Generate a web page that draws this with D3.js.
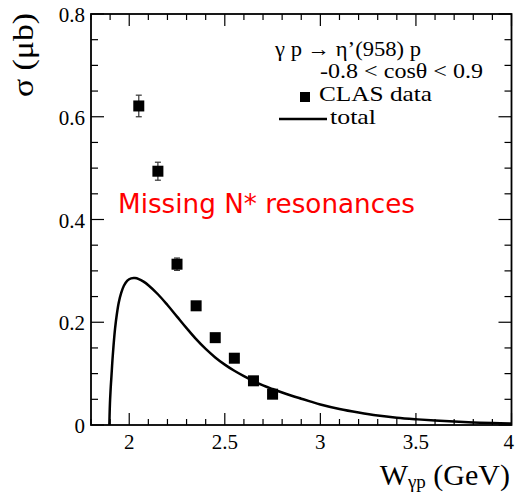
<!DOCTYPE html>
<html>
<head>
<meta charset="utf-8">
<script src="https://cdn.jsdelivr.net/npm/d3@7"></script>
<style>
html,body{margin:0;padding:0;background:#fff;}
svg{display:block;}
</style>
</head>
<body>
<svg id="chart" width="515" height="494"></svg>
<script>
// ---- data ----
const dataW = [2.05, 2.15, 2.25, 2.35, 2.45, 2.55, 2.65, 2.75];
const dataSigma = [0.621, 0.494, 0.313, 0.232, 0.170, 0.130, 0.086, 0.060];
const dataErr = [0.021, 0.0175, 0.012, 0.006, 0.005, 0.004, 0.004, 0.003];

const curveW = [1.896, 1.898, 1.900, 1.903, 1.907, 1.912, 1.918, 1.926, 1.935, 1.945, 1.958, 1.972, 1.990, 2.010, 2.030, 2.050, 2.075, 2.10, 2.15, 2.20, 2.25, 2.30, 2.35, 2.40, 2.45, 2.50, 2.55, 2.60, 2.65, 2.70, 2.75, 2.80, 2.85, 2.90, 2.95, 3.0, 3.1, 3.2, 3.3, 3.4, 3.5, 3.6, 3.7, 3.8, 3.9, 4.0];
const curveSigma = [0.0, 0.030, 0.050, 0.072, 0.095, 0.125, 0.155, 0.188, 0.215, 0.238, 0.257, 0.271, 0.281, 0.2855, 0.2860, 0.2840, 0.2790, 0.2720, 0.2545, 0.2335, 0.2110, 0.1885, 0.1670, 0.1480, 0.1315, 0.1175, 0.1055, 0.0950, 0.0855, 0.0772, 0.0700, 0.0632, 0.0570, 0.0512, 0.0455, 0.0400, 0.0312, 0.0243, 0.0185, 0.0143, 0.0112, 0.0086, 0.0066, 0.0050, 0.0037, 0.0027];

const xTicks = [2, 2.5, 3, 3.5, 4];
const xTickLabels = ["2", "2.5", "3", "3.5", "4"];
const yTicks = [0, 0.2, 0.4, 0.6, 0.8];
const yTickLabels = ["0", "0.2", "0.4", "0.6", "0.8"];

const legendLines = ["γ p → η’(958) p", "-0.8 < cosθ < 0.9"];
const legendItems = ["CLAS data", "total"];
const annotation = "Missing N* resonances";

// ---- layout ----
const svg = d3.select("#chart");
const L = 91, R = 511.5, T = 14, B = 425;
const x = d3.scaleLinear().domain([1.8, 4]).range([L, R]);
const y = d3.scaleLinear().domain([0, 0.8]).range([B, T]);
const serif = "'Liberation Serif','Times New Roman',serif";

const g = svg.append("g");

// minor/major ticks
const xMinor = d3.range(1.8, 4.0001, 0.1).map(v => +v.toFixed(2));
const yMinor = d3.range(0, 0.8001, 0.05).map(v => +v.toFixed(3));
const isMajorX = v => xTicks.some(t => Math.abs(t - v) < 1e-6);
const isMajorY = v => yTicks.some(t => Math.abs(t - v) < 1e-6);

const tickG = g.append("g").attr("stroke", "#000").attr("stroke-width", 1.2);
xMinor.forEach(v => {
  const len = isMajorX(v) ? 12 : 6;
  tickG.append("line").attr("x1", x(v)).attr("x2", x(v)).attr("y1", B).attr("y2", B - len);
  tickG.append("line").attr("x1", x(v)).attr("x2", x(v)).attr("y1", T).attr("y2", T + len);
});
yMinor.forEach(v => {
  const len = isMajorY(v) ? 13 : 7;
  tickG.append("line").attr("x1", L).attr("x2", L + len).attr("y1", y(v)).attr("y2", y(v));
  tickG.append("line").attr("x1", R).attr("x2", R - len).attr("y1", y(v)).attr("y2", y(v));
});

// frame
g.append("rect").attr("x", L).attr("y", T).attr("width", R - L).attr("height", B - T)
  .attr("fill", "none").attr("stroke", "#000").attr("stroke-width", 1.8);

// tick labels
xTicks.forEach((v, i) => {
  const last = i === xTicks.length - 1;
  g.append("text").attr("x", last ? 514 : x(v)).attr("y", 449)
    .attr("text-anchor", last ? "end" : "middle")
    .attr("font-family", serif).attr("font-size", 21).text(xTickLabels[i]);
});
yTicks.forEach((v, i) => {
  g.append("text").attr("x", 85).attr("y", y(v) + 8).attr("text-anchor", "end")
    .attr("font-family", serif).attr("font-size", 21).text(yTickLabels[i]);
});

// axis titles
const xt = g.append("text").attr("x", 510).attr("y", 485).attr("text-anchor", "end")
  .attr("font-family", serif).attr("font-size", 30);
xt.append("tspan").text("W");
xt.append("tspan").attr("font-size", 19).attr("dy", 3).text("γp");
xt.append("tspan").attr("dy", -3).text(" (GeV)");

g.append("text").attr("transform", "translate(33,13) rotate(-90)").attr("text-anchor", "end")
  .attr("font-family", serif).attr("font-size", 30)
  .attr("textLength", 84).attr("lengthAdjust", "spacingAndGlyphs").text("σ (μb)");

// curve
const line = d3.line().x((d, i) => x(curveW[i])).y((d, i) => y(curveSigma[i])).curve(d3.curveCatmullRom.alpha(0.5));
g.append("path").attr("d", line(curveW)).attr("fill", "none").attr("stroke", "#000").attr("stroke-width", 2.5);

// error bars
const eb = g.append("g").attr("stroke", "#333").attr("stroke-width", 1.2);
dataW.forEach((w, i) => {
  const cx = x(w), y1 = y(dataSigma[i] + dataErr[i]), y2 = y(dataSigma[i] - dataErr[i]);
  eb.append("line").attr("x1", cx).attr("x2", cx).attr("y1", y1).attr("y2", y2);
  eb.append("line").attr("x1", cx - 3).attr("x2", cx + 3).attr("y1", y1).attr("y2", y1);
  eb.append("line").attr("x1", cx - 3).attr("x2", cx + 3).attr("y1", y2).attr("y2", y2);
});
// markers
const ms = 11;
g.append("g").selectAll("rect").data(dataW).join("rect")
  .attr("x", d => x(d) - ms / 2).attr("y", (d, i) => y(dataSigma[i]) - ms / 2)
  .attr("width", ms).attr("height", ms).attr("fill", "#000");

// legend
g.append("text").attr("x", 275).attr("y", 56).attr("font-family", serif).attr("font-size", 22)
  .attr("textLength", 146).attr("lengthAdjust", "spacingAndGlyphs").text(legendLines[0]);
g.append("text").attr("x", 320).attr("y", 78).attr("font-family", serif).attr("font-size", 22)
  .attr("textLength", 163).attr("lengthAdjust", "spacingAndGlyphs").text(legendLines[1]);
g.append("rect").attr("x", 305 - 5).attr("y", 97 - 5).attr("width", 10).attr("height", 10).attr("fill", "#000");
g.append("text").attr("x", 319).attr("y", 101).attr("font-family", serif).attr("font-size", 22)
  .attr("textLength", 113).attr("lengthAdjust", "spacingAndGlyphs").text(legendItems[0]);
g.append("line").attr("x1", 279).attr("x2", 327).attr("y1", 119).attr("y2", 119)
  .attr("stroke", "#000").attr("stroke-width", 2.5);
g.append("text").attr("x", 330).attr("y", 124).attr("font-family", serif).attr("font-size", 22)
  .attr("textLength", 46).attr("lengthAdjust", "spacingAndGlyphs").text(legendItems[1]);

// annotation
g.append("text").attr("x", 118).attr("y", 213).attr("font-family", "'DejaVu Sans',sans-serif")
  .attr("font-size", 27).attr("fill", "#ff0000")
  .attr("textLength", 297).attr("lengthAdjust", "spacingAndGlyphs").text(annotation);
</script>
</body>
</html>
